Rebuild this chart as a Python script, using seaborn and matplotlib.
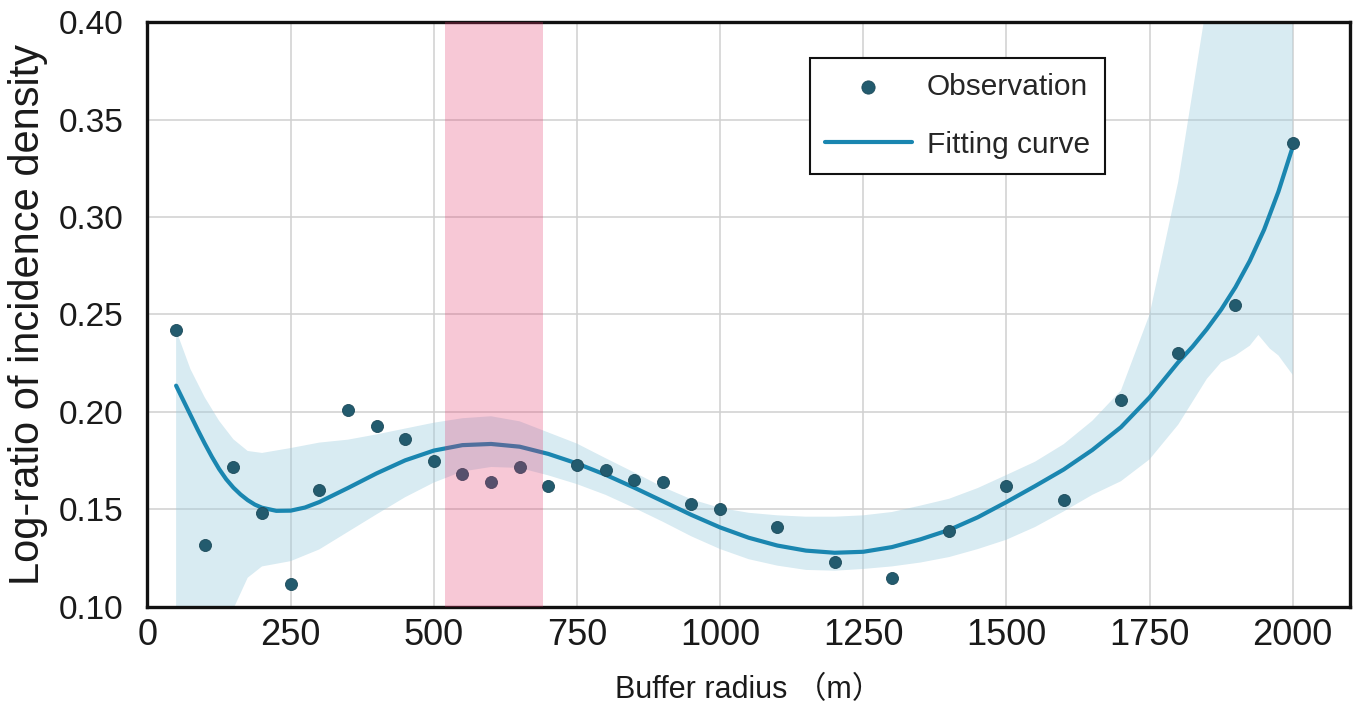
import matplotlib
matplotlib.use("Agg")
import matplotlib.pyplot as plt
import seaborn as sns
import pandas as pd

# Observed log-ratio of incidence density at each buffer radius (m)
obs_radius = [50, 100, 150, 200, 250, 300, 350, 400, 450, 500, 550, 600, 650, 700,
              750, 800, 850, 900, 950, 1000, 1100, 1200, 1300, 1400, 1500, 1600,
              1700, 1800, 1900, 2000]
obs_value = [0.242, 0.132, 0.172, 0.148, 0.112, 0.160, 0.201, 0.193, 0.186, 0.175,
             0.168, 0.164, 0.172, 0.162, 0.173, 0.170, 0.165, 0.164, 0.153, 0.150,
             0.141, 0.123, 0.115, 0.139, 0.162, 0.155, 0.206, 0.230, 0.255, 0.338]

# Fitted curve
fit_radius = [50, 62.5, 75, 87.5, 100, 112.5, 125, 137.5, 150, 162.5, 175, 187.5, 200,
              225, 250, 275, 300, 350, 400, 450, 500, 550, 600, 650, 700, 750, 800,
              850, 900, 950, 1000, 1050, 1100, 1150, 1200, 1250, 1300, 1350, 1400,
              1450, 1500, 1550, 1600, 1650, 1700, 1750, 1800, 1825, 1850, 1875, 1900,
              1925, 1950, 1975, 2000]
fit_value = [0.2135, 0.2060, 0.1985, 0.1910, 0.1838, 0.1770, 0.1708, 0.1655, 0.1612,
             0.1577, 0.1548, 0.1525, 0.1509, 0.1493, 0.1494, 0.1510, 0.1538, 0.1610,
             0.1685, 0.1752, 0.1802, 0.1830, 0.1836, 0.1822, 0.1785, 0.1736, 0.1678,
             0.1612, 0.1542, 0.1472, 0.1408, 0.1355, 0.1315, 0.1289, 0.1278, 0.1283,
             0.1307, 0.1347, 0.1395, 0.1460, 0.1538, 0.1620, 0.1705, 0.1805, 0.1922,
             0.2075, 0.2255, 0.2335, 0.2425, 0.2525, 0.2640, 0.2775, 0.2935, 0.3130,
             0.3360]

# Confidence band of the fit
band_radius = [50, 75, 100, 125, 150, 175, 200, 250, 300, 350, 400, 450, 500, 550, 600,
               650, 700, 750, 800, 850, 900, 950, 1000, 1050, 1100, 1150, 1200, 1250,
               1300, 1350, 1400, 1450, 1500, 1550, 1600, 1650, 1700, 1750, 1800, 1850,
               1875, 1900, 1925, 1940, 1960, 1975, 2000]
band_low = [0.030, 0.040, 0.060, 0.080, 0.099, 0.115, 0.1208, 0.1235, 0.1295, 0.1385,
            0.1475, 0.1563, 0.1638, 0.1695, 0.1718, 0.1713, 0.1675, 0.1630, 0.1575,
            0.1508, 0.1437, 0.1362, 0.1297, 0.1245, 0.1212, 0.1190, 0.1186, 0.1195,
            0.1208, 0.1228, 0.1256, 0.1297, 0.1345, 0.1410, 0.1490, 0.1575, 0.1645,
            0.1757, 0.1935, 0.2170, 0.2255, 0.2290, 0.2340, 0.2395, 0.2325, 0.2290,
            0.2190]
band_high = [0.242, 0.222, 0.2075, 0.1955, 0.186, 0.180, 0.179, 0.1815, 0.1843, 0.1858,
             0.1885, 0.1915, 0.1945, 0.1968, 0.1978, 0.1952, 0.1895, 0.1838, 0.1763,
             0.1690, 0.1615, 0.1552, 0.1508, 0.1483, 0.1470, 0.1463, 0.1463, 0.1470,
             0.1487, 0.1520, 0.1555, 0.1610, 0.1677, 0.1745, 0.1835, 0.1955, 0.2110,
             0.2500, 0.3180, 0.4100, 0.5, 0.5, 0.5, 0.5, 0.5, 0.5, 0.5]

# Highlighted radius range
span_start, span_end = 520, 690

x_ticks = [0, 250, 500, 750, 1000, 1250, 1500, 1750, 2000]
y_ticks = [0.10, 0.15, 0.20, 0.25, 0.30, 0.35, 0.40]

sns.set_theme(style="whitegrid")
plt.rcParams["font.family"] = ["Liberation Sans", "Noto Sans CJK SC", "DejaVu Sans"]

obs_df = pd.DataFrame({"radius": obs_radius, "value": obs_value})
fit_df = pd.DataFrame({"radius": fit_radius, "value": fit_value})

fig, ax = plt.subplots(figsize=(13.58, 7.08), dpi=100)
fig.subplots_adjust(left=0.1086, right=0.9941, top=0.9689, bottom=0.1427)

ax.fill_between(band_radius, band_low, band_high, color="#9ecddf", alpha=0.4,
                linewidth=0, zorder=1)
sns.scatterplot(data=obs_df, x="radius", y="value", ax=ax, color="#235b6e", s=75,
                edgecolor="#1d4b5b", linewidth=0.6, zorder=3, label="Observation")
sns.lineplot(data=fit_df, x="radius", y="value", ax=ax, color="#1a86b0", linewidth=3,
             errorbar=None, zorder=2, label="Fitting curve")
ax.axvspan(span_start, span_end, color="#e2346a", alpha=0.27, linewidth=0, zorder=4)

ax.set_xlim(0, 2100)
ax.set_ylim(0.10, 0.40)
ax.set_xticks(x_ticks)
ax.set_yticks(y_ticks)
ax.set_yticklabels([f"{v:.2f}" for v in y_ticks])
ax.tick_params(axis="x", labelsize=26, length=0, pad=8, colors="#1a1a1a")
ax.tick_params(axis="y", labelsize=24, length=0, pad=17, colors="#1a1a1a")
ax.grid(True, color="#d0d0d0", linewidth=1.1)
ax.set_axisbelow(True)
for sp in ax.spines.values():
    sp.set_color("#111111")
    sp.set_linewidth(2.4)

ax.set_xlabel("Buffer radius （m）", fontsize=22, labelpad=16, color="#1a1a1a")
ax.set_ylabel("Log-ratio of incidence density", fontsize=30, labelpad=8, color="#1a1a1a")

handles, labels = ax.get_legend_handles_labels()
leg = ax.legend(handles, labels, loc="upper right", bbox_to_anchor=(0.796, 0.9385),
                borderaxespad=0, fontsize=21.5, frameon=True, fancybox=False,
                framealpha=1, edgecolor="#111111", borderpad=0.5, labelspacing=1.0,
                handlelength=2.9, handletextpad=0.5, markerscale=1.1)
leg.get_frame().set_linewidth(1.5)
leg.set_zorder(5)

fig.savefig("out.png", dpi=100)
